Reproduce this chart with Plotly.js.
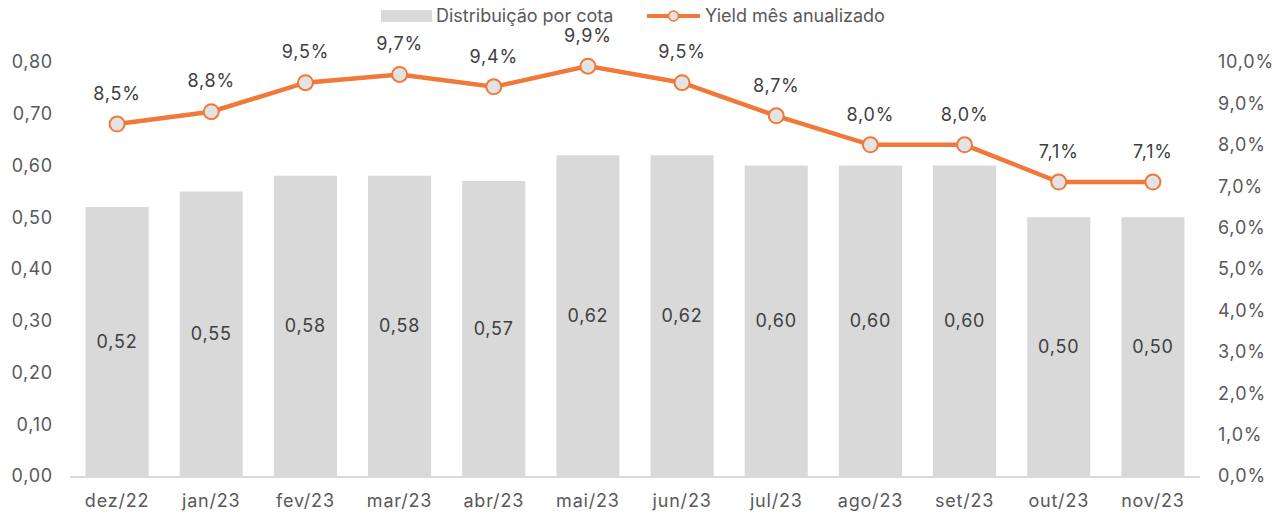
<!DOCTYPE html>
<html>
<head>
<meta charset="utf-8">
<script src="https://cdn.plot.ly/plotly-3.0.1.min.js"></script>
<style>
html,body{margin:0;padding:0;background:#fff;}
#chart{width:1288px;height:513px;}
#chart text{letter-spacing:0.8px;}
#chart .annotation-text{letter-spacing:0px;}
</style>
</head>
<body>
<div id="chart"></div>
<script>
const categories = ["dez/22","jan/23","fev/23","mar/23","abr/23","mai/23","jun/23","jul/23","ago/23","set/23","out/23","nov/23"];
const distribuicao = [0.52,0.55,0.58,0.58,0.57,0.62,0.62,0.60,0.60,0.60,0.50,0.50];
const yieldAnual = [0.085,0.088,0.095,0.097,0.094,0.099,0.095,0.087,0.080,0.080,0.071,0.071];
const seriesNames = ["Distribuição por cota","Yield mês anualizado"];

const FONT = "Inter, 'Open Sans', sans-serif";
const ORANGE = '#F07838';
const GRAY = '#D9D9D9';
const TXT = '#595959';

// plot area in pixels
const L = 70, R = 88, T = 62, B = 37, W = 1288, H = 513;
const pw = W - L - R, ph = H - T - B;
const px = v => (v - L) / pw;
const py = v => (H - B - v) / ph;

const bars = {
  type: 'bar', name: seriesNames[0], x: categories, y: distribuicao,
  marker: {color: GRAY}, width: 0.67, showlegend: false,
  texttemplate: '%{y:.2f}', textposition: 'inside', insidetextanchor: 'middle',
  textfont: {family: FONT, size: 18, color: '#404040'}, hoverinfo: 'skip'
};
const line = {
  type: 'scatter', mode: 'lines+markers', name: seriesNames[1],
  x: categories, y: yieldAnual, yaxis: 'y2', showlegend: false,
  line: {color: ORANGE, width: 4.5},
  marker: {size: 15, color: '#E3E3E3', line: {color: ORANGE, width: 2}},
  cliponaxis: false, hoverinfo: 'skip'
};
// labels for the line, placed above the points (invisible wide markers push text up)
const lineLabels = {
  type: 'scatter', mode: 'markers+text', x: categories, y: yieldAnual, yaxis: 'y2', showlegend: false,
  marker: {size: 30, opacity: 0},
  texttemplate: '%{y:.1%}', textposition: 'top center',
  textfont: {family: FONT, size: 18, color: '#404040'}, cliponaxis: false, hoverinfo: 'skip'
};

const legY = 16;
const shapes = [
  {type: 'rect', xref: 'paper', yref: 'paper', x0: px(381), x1: px(432), y0: py(legY - 6), y1: py(legY + 6),
   fillcolor: GRAY, line: {width: 0}},
  {type: 'line', xref: 'paper', yref: 'paper', x0: px(647), x1: px(700), y0: py(legY), y1: py(legY),
   line: {color: ORANGE, width: 4}},
  {type: 'circle', xref: 'paper', yref: 'paper', xsizemode: 'pixel', ysizemode: 'pixel',
   xanchor: px(673.5), yanchor: py(legY), x0: -5, x1: 5, y0: -5, y1: 5,
   fillcolor: '#E3E3E3', line: {color: ORANGE, width: 1.5}}
];
const annotations = [
  {xref: 'paper', yref: 'paper', x: px(434), y: py(legY), xanchor: 'left', yanchor: 'middle', showarrow: false,
   text: seriesNames[0], font: {family: FONT, size: 18, color: TXT}},
  {xref: 'paper', yref: 'paper', x: px(703), y: py(legY), xanchor: 'left', yanchor: 'middle', showarrow: false,
   text: seriesNames[1], font: {family: FONT, size: 18, color: TXT}}
];

const layout = {
  width: W, height: H,
  margin: {l: L, r: R, t: T, b: B},
  paper_bgcolor: '#fff', plot_bgcolor: '#fff',
  separators: ',.',
  font: {family: FONT, size: 18, color: TXT},
  showlegend: false,
  shapes: shapes, annotations: annotations,
  xaxis: {range: [-0.5, categories.length - 0.5], autorange: false, showgrid: false, showline: true,
          linecolor: GRAY, linewidth: 2, ticks: '', automargin: false,
          ticklabelstandoff: 7, tickfont: {family: FONT, size: 18, color: TXT}},
  yaxis: {range: [0, 0.8], tickvals: [0,0.1,0.2,0.3,0.4,0.5,0.6,0.7,0.8], tickformat: '.2f', automargin: false,
          showgrid: false, zeroline: false, showline: false, ticks: '', ticklabelstandoff: 16,
          tickfont: {family: FONT, size: 18, color: TXT}},
  yaxis2: {range: [0, 0.1], overlaying: 'y', side: 'right', tickvals: [0,0.01,0.02,0.03,0.04,0.05,0.06,0.07,0.08,0.09,0.1],
           tickformat: '.1%', showgrid: false, zeroline: false, showline: false, ticks: '', ticklabelstandoff: 17,
           automargin: false, tickfont: {family: FONT, size: 18, color: TXT}}
};

Plotly.newPlot('chart', [bars, line, lineLabels], layout, {displayModeBar: false, staticPlot: true});
</script>
</body>
</html>
